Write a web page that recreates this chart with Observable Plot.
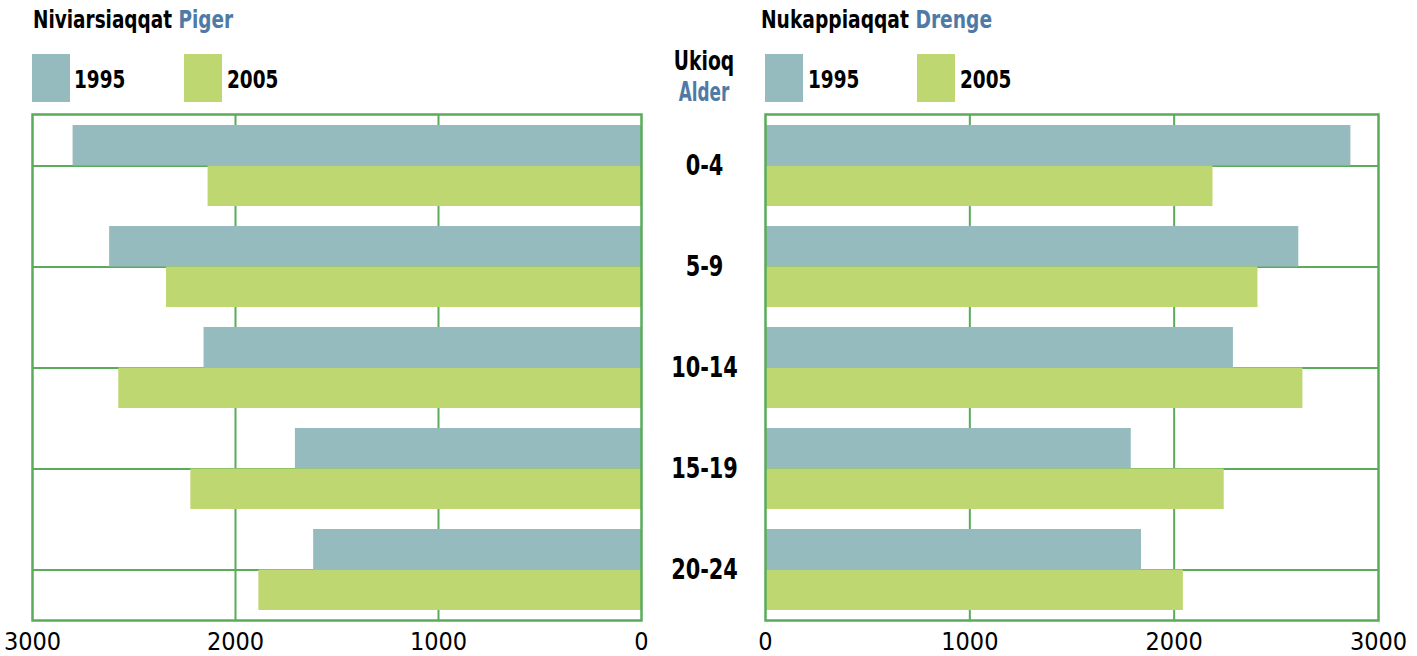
<!DOCTYPE html>
<html>
<head>
<meta charset="utf-8">
<script src="https://cdn.jsdelivr.net/npm/d3@7"></script>
<script src="https://cdn.jsdelivr.net/npm/@observablehq/plot@0.6"></script>
<style>
  html, body { margin: 0; padding: 0; background: #fff; }
  #root { position: relative; width: 1417px; height: 656px; overflow: hidden;
          font-family: "Liberation Sans Narrow", "DejaVu Sans Condensed", sans-serif; }
  .t { position: absolute; white-space: nowrap; line-height: 1; font-weight: bold; color: #000; transform-origin: 0 50%; }
  .blue { color: #4f7aa6; }
  .sw { position: absolute; }
</style>
</head>
<body>
<div id="root"></div>
<script>
// ---- data ----
const ages = ["0-4", "5-9", "10-14", "15-19", "20-24"];
const years = ["1995", "2005"];
const girls1995 = [2800, 2620, 2155, 1705, 1615];
const girls2005 = [2135, 2340, 2575, 2220, 1885];
const boys1995 = [2865, 2610, 2290, 1790, 1840];
const boys2005 = [2190, 2410, 2630, 2245, 2045];
const xTicks = [0, 1000, 2000, 3000];
const gridTicks = [1000, 2000];

const colors = {"1995": "#95bbbf", "2005": "#bed770"};
const green = "#5aab5a";
const font = '"Liberation Sans Narrow", "DejaVu Sans Condensed", sans-serif';

const root = document.getElementById("root");

function addText(html, left, top, size, sx, centered = false) {
  const d = document.createElement("div");
  d.className = "t";
  d.style.left = left + "px";
  d.style.top = top + "px";
  d.style.fontSize = size + "px";
  if (centered) {
    d.style.transformOrigin = "50% 50%";
    d.style.transform = `translateX(-50%) scaleX(${sx})`;
  } else {
    d.style.transform = `scaleX(${sx})`;
  }
  d.innerHTML = html;
  root.appendChild(d);
  return d;
}
function addSwatch(color, left) {
  const d = document.createElement("div");
  d.className = "sw";
  d.style.cssText = `left:${left}px;top:54px;width:38px;height:48px;background:${color}`;
  root.appendChild(d);
}

// titles
addText(`Niviarsiaqqat <span class="blue">Piger</span>`, 33, 7, 25, 0.82);
addText(`Nukappiaqqat <span class="blue">Drenge</span>`, 761, 7, 25, 0.83);
// legends
addSwatch(colors["1995"], 32); addText(years[0], 74, 67, 25, 0.82);
addSwatch(colors["2005"], 184); addText(years[1], 227, 67, 25, 0.82);
addSwatch(colors["1995"], 765); addText(years[0], 808, 67, 25, 0.82);
addSwatch(colors["2005"], 917); addText(years[1], 960, 67, 25, 0.82);
// center header
addText("Ukioq", 704, 48, 26, 0.8, true);
addText(`<span class="blue">Alder</span>`, 704, 79, 26, 0.72, true);

const H = 556, mTop = 14, mBottom = 36;
const pInner = 0.2, pOuter = 0.1;
const step = (H - mTop - mBottom) / (ages.length - pInner + 2 * pOuter);
const half = step * (1 - pInner) / 2;

function rows(v95, v05) {
  return ages.flatMap((a, i) => [
    {age: a, year: "1995", value: v95[i]},
    {age: a, year: "2005", value: v05[i]}
  ]);
}

function panel(data, opts) {
  const p = Plot.plot({
    width: opts.width,
    height: H,
    marginTop: mTop,
    marginBottom: mBottom,
    marginLeft: opts.ml,
    marginRight: opts.mr,
    style: {fontFamily: font, background: "transparent", overflow: "visible"},
    x: {domain: [0, 3000], reverse: opts.reverse, label: null},
    y: {domain: ages, paddingInner: pInner, paddingOuter: pOuter, label: null},
    marks: [
      Plot.gridX(gridTicks, {stroke: green, strokeOpacity: 1, strokeWidth: 2}),
      Plot.gridY({stroke: green, strokeOpacity: 1, strokeWidth: 2}),
      Plot.barX(data.filter(d => d.year === "1995"), {y: "age", x: "value", fill: colors["1995"], insetBottom: half}),
      Plot.barX(data.filter(d => d.year === "2005"), {y: "age", x: "value", fill: colors["2005"], insetTop: half}),
      Plot.frame({stroke: green, strokeWidth: 2.5}),
      Plot.axisX({ticks: xTicks, tickSize: 0, tickPadding: 12, fontSize: 25, fill: "#000", tickFormat: d => String(d)}),
      opts.yAxis
        ? Plot.axisY({anchor: "right", tickSize: 0, tickPadding: 63, textAnchor: "middle", fontSize: 29, fontWeight: "bold", fill: "#000"})
        : Plot.axisY({ticks: []})
    ]
  });
  p.style.position = "absolute";
  p.style.left = opts.left + "px";
  p.style.top = "100px";
  // condense the bold age labels horizontally (narrow font substitute)
  d3.select(p).selectAll('g[aria-label="y-axis tick label"] text').each(function() {
    const t = this.getAttribute("transform") || "";
    this.setAttribute("transform", t + " scale(0.8,1)");
  });
  root.appendChild(p);
}

panel(rows(girls1995, girls2005), {left: 0, width: 745, ml: 32, mr: 104, reverse: true, yAxis: true});
panel(rows(boys1995, boys2005), {left: 745, width: 672, ml: 20, mr: 39, reverse: false, yAxis: false});
</script>
</body>
</html>
